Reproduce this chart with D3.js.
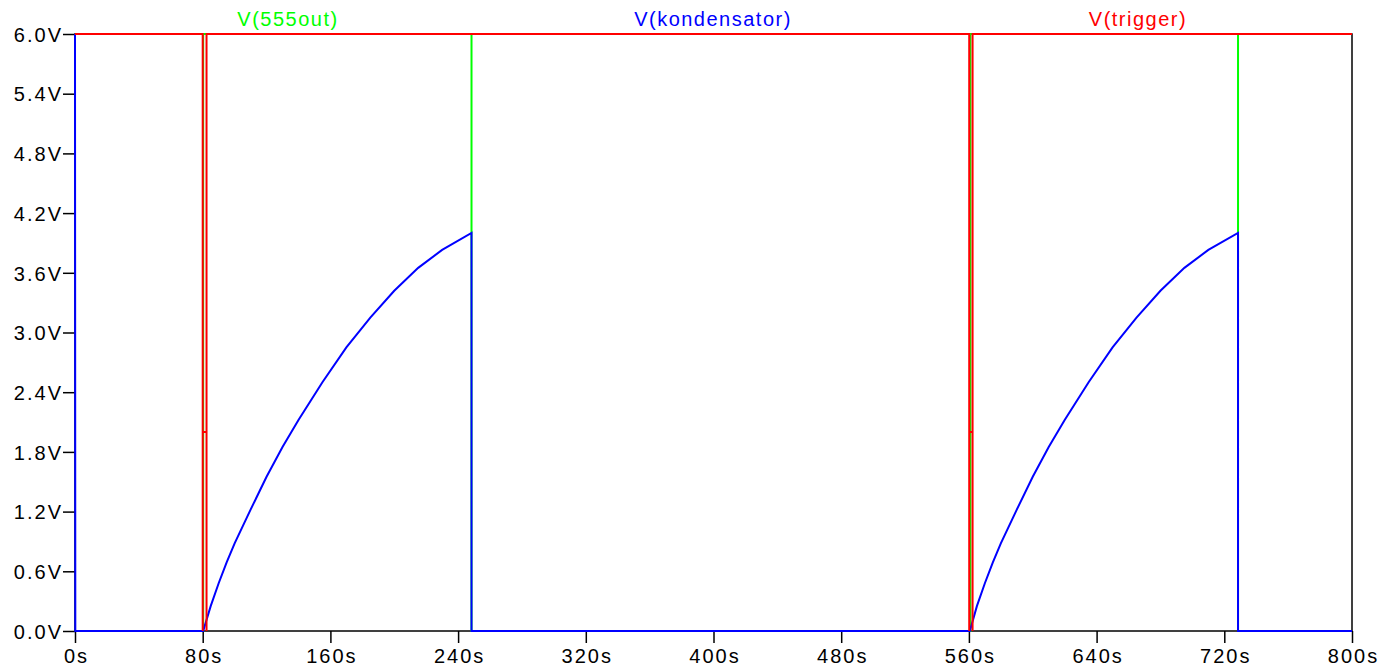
<!DOCTYPE html>
<html>
<head>
<meta charset="utf-8">
<script src="https://cdn.jsdelivr.net/npm/d3@7"></script>
<style>
  html, body { margin: 0; padding: 0; background: #fff; }
  svg text { font-family: "Liberation Sans", Arial, sans-serif; }
</style>
</head>
<body>
<div id="chart"></div>
<script>
// tick labels
var xTicks = [0, 80, 160, 240, 320, 400, 480, 560, 640, 720, 800];
var yTicks = [0, 0.6, 1.2, 1.8, 2.4, 3.0, 3.6, 4.2, 4.8, 5.4, 6.0];

// trace names
var traceNames = ["V(555out)", "V(kondensator)", "V(trigger)"];

// V(555out) [time s, volts]
var out555 = [[0, 0], [80.3, 0], [80.3, 6], [248.4, 6], [248.4, 0],
              [560.9, 0], [560.9, 6], [728.6, 6], [728.6, 0], [800, 0]];

// V(trigger) [time s, volts]
var trigger = [[0, 6], [80, 6], [80, 0], [80, 2], [82.4, 2], [82.4, 0], [82.4, 6],
               [560.2, 6], [560.2, 0], [560.2, 2], [562.3, 2], [562.3, 0], [562.3, 6],
               [800, 6]];

// V(kondensator) [time s, volts]
var kondensator = [[0, 6], [0.2, 0], [80.3, 0],
  [85, 0.25], [90, 0.48], [95, 0.69], [100, 0.88], [110, 1.22], [120, 1.55],
  [130, 1.85], [140, 2.12], [155, 2.5], [170, 2.85], [185, 3.15], [200, 3.42],
  [215, 3.65], [230, 3.83], [248.4, 4.0], [248.4, 0],
  [560.6, 0],
  [565, 0.25], [570, 0.48], [575, 0.69], [580, 0.88], [590, 1.22], [600, 1.55],
  [610, 1.85], [620, 2.12], [635, 2.5], [650, 2.85], [665, 3.15], [680, 3.42],
  [695, 3.65], [710, 3.83], [728.6, 4.0], [728.6, 0],
  [800, 0]];

var W = 1383, H = 671;
var pL = 75, pR = 1352, pT = 34, pB = 631;

var svg = d3.select("#chart").append("svg")
    .attr("width", W)
    .attr("height", H);

var x = d3.scaleLinear().domain([0, 800]).range([pL, pR]);
var y = d3.scaleLinear().domain([0, 6]).range([pB, pT]);

// frame
svg.append("rect")
    .attr("x", pL).attr("y", pT)
    .attr("width", pR - pL).attr("height", pB - pT)
    .attr("fill", "none").attr("stroke", "#000").attr("stroke-width", 1.5);

// axes
var xAxis = svg.append("g")
    .attr("transform", "translate(0," + pB + ")")
    .call(d3.axisBottom(x).tickValues(xTicks).tickSize(12).tickPadding(6)
      .tickFormat(function(d) { return d + "s"; }));

var yAxis = svg.append("g")
    .attr("transform", "translate(" + pL + ",0)")
    .call(d3.axisLeft(y).tickValues(yTicks).tickSize(12).tickPadding(0)
      .tickFormat(function(d) { return d3.format(".1f")(d) + "V"; }));

[xAxis, yAxis].forEach(function(g) {
  g.select(".domain").remove();
  g.selectAll(".tick line").attr("stroke", "#000").attr("stroke-width", 1.5);
  g.selectAll(".tick text")
    .attr("fill", "#000")
    .attr("font-size", "20px")
    .style("font-family", "Liberation Sans, Arial, sans-serif")
    .style("letter-spacing", "2px");
});
yAxis.selectAll(".tick text").attr("dy", "0.36em");
xAxis.selectAll(".tick text").attr("dy", "0.72em").attr("dx", "1px");

var line = d3.line()
    .x(function(d) { return x(d[0]); })
    .y(function(d) { return y(d[1]); });

var traces = [
  { data: out555, color: "#00ff00" },
  { data: kondensator, color: "#0000ff" },
  { data: trigger, color: "#ff0000" }
];

traces.forEach(function(t) {
  svg.append("path")
      .attr("d", line(t.data))
      .attr("fill", "none")
      .attr("stroke", t.color)
      .attr("stroke-width", 2);
});

// trace names on top
var titleX = [288, 713, 1138];
var titleColor = ["#00ff00", "#0000ff", "#ff0000"];
svg.selectAll(".title")
  .data(traceNames)
  .enter()
  .append("text")
    .attr("class", "title")
    .attr("x", function(d, i) { return titleX[i]; })
    .attr("y", 26)
    .attr("text-anchor", "middle")
    .attr("font-size", "20px")
    .style("letter-spacing", "1.5px")
    .attr("fill", function(d, i) { return titleColor[i]; })
    .text(function(d) { return d; });
</script>
</body>
</html>
